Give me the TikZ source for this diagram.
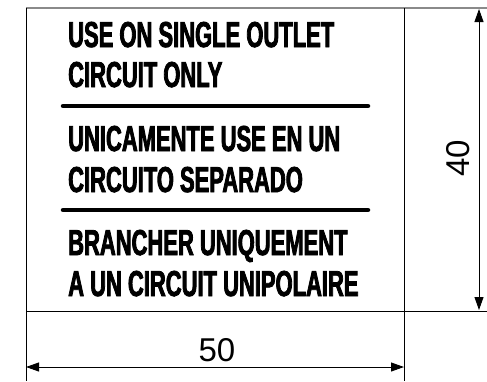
\documentclass[tikz,border=0pt]{standalone}
\usepackage{fontspec}
\usepackage{xcolor}
\usepackage{tikz}
\usetikzlibrary{arrows.meta}
\newfontfamily\labelfont[FakeStretch=0.61, BoldFeatures={FakeBold=2.2}]{Liberation Sans}
\newfontfamily\dimfont{Liberation Sans}
\definecolor{EdgeGrey}{HTML}{8a8a8a}

\begin{document}
\begin{tikzpicture}[x=1pt, y=-1pt,
  warntext/.style = {anchor = base west, inner sep = 0pt,
    font = \labelfont\bfseries\fontsize{36}{36}\selectfont},
  dimtext/.style = {inner sep = 0pt, font = \dimfont\fontsize{33}{33}\selectfont},
  dimline/.style = {line width = .9pt, {Triangle[length=13pt, width=9pt]}-{Triangle[length=13pt, width=9pt]}}]
  \useasboundingbox (0,0) rectangle (487,381);

  % outline of the label and extension lines
  \coordinate (tl) at (26,8);
  \coordinate (tr) at (404,8);
  \coordinate (bl) at (26,311);
  \coordinate (br) at (404,311);
  \draw[EdgeGrey, line width = 1.2pt] (tl) -- (487,8);
  \draw[line width = .9pt] (bl) -- (487,311);
  \draw[line width = .9pt] (tl) -- (26,381);
  \draw[line width = .9pt] (tr) -- (404,381);

  % text
  \node[warntext] (l1) at (68,47)  {USE ON SINGLE OUTLET};
  \node[warntext] (l2) at (68,87)  {CIRCUIT ONLY};
  \node[warntext] (l3) at (68,151) {UNICAMENTE USE EN UN};
  \node[warntext] (l4) at (68,192) {CIRCUITO SEPARADO};
  \node[warntext] (l5) at (68,255) {BRANCHER UNIQUEMENT};
  \node[warntext] (l6) at (68,296) {A UN CIRCUIT UNIPOLAIRE};

  \draw[line width = 4.5pt, line cap = round] (63,106) -- (368,106);
  \draw[line width = 4.5pt, line cap = round] (63,210) -- (368,210);

  % dimensions
  \coordinate (wl) at (26,367);
  \coordinate (wr) at (404,367);
  \coordinate (ht) at (479,9);
  \coordinate (hb) at (479,310);
  \draw[dimline] (wl) -- (wr);
  \draw[dimline] (ht) -- (hb);
  \node[dimtext] (w) at (217,350) {50};
  \node[dimtext, rotate = 90] (h) at (458,158) {40};
\end{tikzpicture}
\end{document}
